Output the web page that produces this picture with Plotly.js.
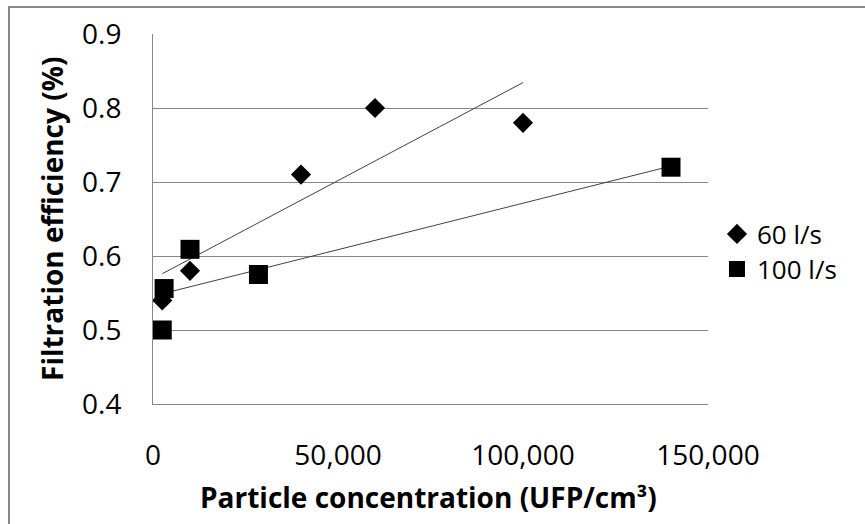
<!DOCTYPE html>
<html>
<head>
<meta charset="utf-8">
<script src="https://cdn.plot.ly/plotly-3.0.1.min.js"></script>
<style>
  html, body { margin: 0; padding: 0; background: #fff; overflow: hidden; }
  #chart { width: 865px; height: 524px; position: absolute; left: 0; top: 0; }
  #frame { position: absolute; left: 8px; top: 6px; width: 1000px; height: 1000px;
           border-top: 2px solid #878787; border-left: 2px solid #878787; pointer-events: none; }
</style>
</head>
<body>
<div id="chart"></div>
<div id="frame"></div>
<script>
// 60 l/s series
const x60 = [2500, 10000, 40000, 60000, 100000];
const y60 = [0.54, 0.58, 0.71, 0.80, 0.78];
// 100 l/s series
const x100 = [2500, 3000, 10000, 28500, 140000];
const y100 = [0.50, 0.556, 0.609, 0.575, 0.72];

const seriesNames = ["60 l/s", "100 l/s"];
const xTicks = [0, 50000, 100000, 150000];
const yTicks = [0.4, 0.5, 0.6, 0.7, 0.8, 0.9];

function linFit(xs, ys) {
  const n = xs.length;
  const mx = xs.reduce((a, b) => a + b, 0) / n;
  const my = ys.reduce((a, b) => a + b, 0) / n;
  let sxy = 0, sxx = 0;
  for (let i = 0; i < n; i++) { sxy += (xs[i] - mx) * (ys[i] - my); sxx += (xs[i] - mx) ** 2; }
  const b = sxy / sxx, a = my - b * mx;
  const x0 = Math.min(...xs), x1 = Math.max(...xs);
  return { x: [x0, x1], y: [a + b * x0, a + b * x1] };
}

const FONT = "Open Sans, Lato, sans-serif";
const t60 = linFit(x60, y60);
const t100 = linFit(x100, y100);

const data = [
  { x: t60.x, y: t60.y, mode: "lines", line: { color: "#404040", width: 1 }, showlegend: false, hoverinfo: "skip" },
  { x: t100.x, y: t100.y, mode: "lines", line: { color: "#404040", width: 1 }, showlegend: false, hoverinfo: "skip" },
  { x: x60, y: y60, mode: "markers", name: seriesNames[0], legend: "legend",
    marker: { symbol: "diamond", size: 15.5, color: "#000" } },
  { x: x100, y: y100, mode: "markers", name: seriesNames[1], legend: "legend2",
    marker: { symbol: "square", size: 19, color: "#000" } }
];

const legendFont = { family: FONT, size: 26, color: "#000" };
const layout = {
  width: 865, height: 524,
  margin: { l: 153, r: 157, t: 34, b: 120 },
  paper_bgcolor: "#fff", plot_bgcolor: "#fff",
  font: { family: FONT, size: 28, color: "#000" },
  showlegend: true,
  legend: { x: 1.0162, xanchor: "left", y: 0.4595, yanchor: "middle",
            font: legendFont, itemwidth: 30, bgcolor: "rgba(0,0,0,0)" },
  legend2: { x: 1.0162, xanchor: "left", y: 0.3649, yanchor: "middle",
            font: legendFont, itemwidth: 30, bgcolor: "rgba(0,0,0,0)" },
  xaxis: {
    range: [0, 150000], tickvals: xTicks, tickformat: ",d",
    showgrid: false, zeroline: false,
    showline: true, linecolor: "#868686", linewidth: 1,
    ticks: "", ticklabelstandoff: 26,
    tickfont: { family: FONT, size: 28, color: "#000" }
  },
  yaxis: {
    range: [0.4, 0.9], tickvals: yTicks, tickformat: ".1f",
    showgrid: true, gridcolor: "#868686", gridwidth: 1, zeroline: false,
    showline: true, linecolor: "#868686", linewidth: 1,
    ticks: "", ticklabelstandoff: 25,
    tickfont: { family: FONT, size: 28, color: "#000" }
  },
  annotations: [
    { text: "<b>Particle concentration (UFP/cm³)</b>", xref: "paper", yref: "paper",
      x: 0.497, y: -0.251, xanchor: "center", yanchor: "middle", showarrow: false,
      font: { family: FONT, size: 28, color: "#000" } },
    { text: "<b>Filtration efficiency (%)</b>", xref: "paper", yref: "paper",
      x: -0.182, y: 0.5, xanchor: "center", yanchor: "middle", showarrow: false, textangle: -90,
      font: { family: FONT, size: 28, color: "#000" } }
  ]
};

Plotly.newPlot("chart", data, layout, { displayModeBar: false, staticPlot: true });
</script>
</body>
</html>
